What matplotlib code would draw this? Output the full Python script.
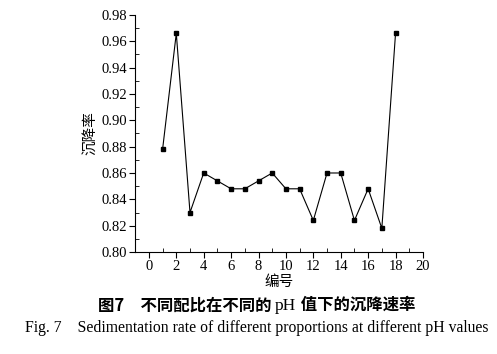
import numpy as np
import matplotlib.pyplot as plt
from matplotlib.ticker import MultipleLocator
from matplotlib.offsetbox import TextArea, HPacker, AnchoredOffsetbox

# sample number and sedimentation rate
ids = list(range(1, 19))
rate = [0.878, 0.966, 0.830, 0.860, 0.854, 0.848, 0.848, 0.854, 0.860,
        0.848, 0.848, 0.824, 0.860, 0.860, 0.824, 0.848, 0.818, 0.966]

serif = ['Liberation Serif', 'DejaVu Serif']
cjk = ['Noto Sans CJK SC', 'DejaVu Sans']

fig = plt.figure(figsize=(4.97, 3.54), dpi=100)
ax = fig.add_axes([0.272, 0.288, 0.579, 0.670])

ax.plot(ids, rate, color='black', lw=0.8, marker='s', ms=3.5)

ax.set_xlim(-1, 20)
ax.set_ylim(0.80, 0.98)
ax.xaxis.set_major_locator(MultipleLocator(2))
ax.xaxis.set_minor_locator(MultipleLocator(1))
ax.yaxis.set_major_locator(MultipleLocator(0.02))
ax.yaxis.set_minor_locator(MultipleLocator(0.01))
ax.set_yticklabels(['%.2f' % v for v in ax.get_yticks()])
ax.spines['top'].set_visible(False)
ax.spines['right'].set_visible(False)
ax.tick_params(which='major', direction='out', length=4, width=0.8,
               labelsize=10.5, pad=2)
ax.tick_params(which='minor', direction='in', length=3, width=0.6)
for lab in ax.get_xticklabels() + ax.get_yticklabels():
    lab.set_family(serif)

ax.set_xlabel('编号', family=cjk, fontsize=10.5, labelpad=1)
ax.set_ylabel('沉降率', family=cjk, fontsize=10.5, labelpad=2)

# caption line 1: bold CJK with serif "pH"
parts = [TextArea('图7\u3000不同配比在不同的 ',
                  textprops=dict(family=cjk, fontsize=11.8, weight='bold')),
         TextArea('pH',
                  textprops=dict(family=serif, fontsize=12.5)),
         TextArea(' 值下的沉降速率',
                  textprops=dict(family=cjk, fontsize=11.8, weight='bold'))]
box = HPacker(children=parts, align='baseline', pad=0, sep=0)
anc = AnchoredOffsetbox(loc='center', child=box, frameon=False,
                        bbox_to_anchor=(0.516, 0.138),
                        bbox_transform=fig.transFigure, borderpad=0)
fig.add_artist(anc)

fig.text(0.516, 0.073, 'Fig. 7    Sedimentation rate of different proportions at different pH values',
         family=serif, fontsize=11.3, ha='center', va='center')

fig.savefig('out.png', dpi=100)
